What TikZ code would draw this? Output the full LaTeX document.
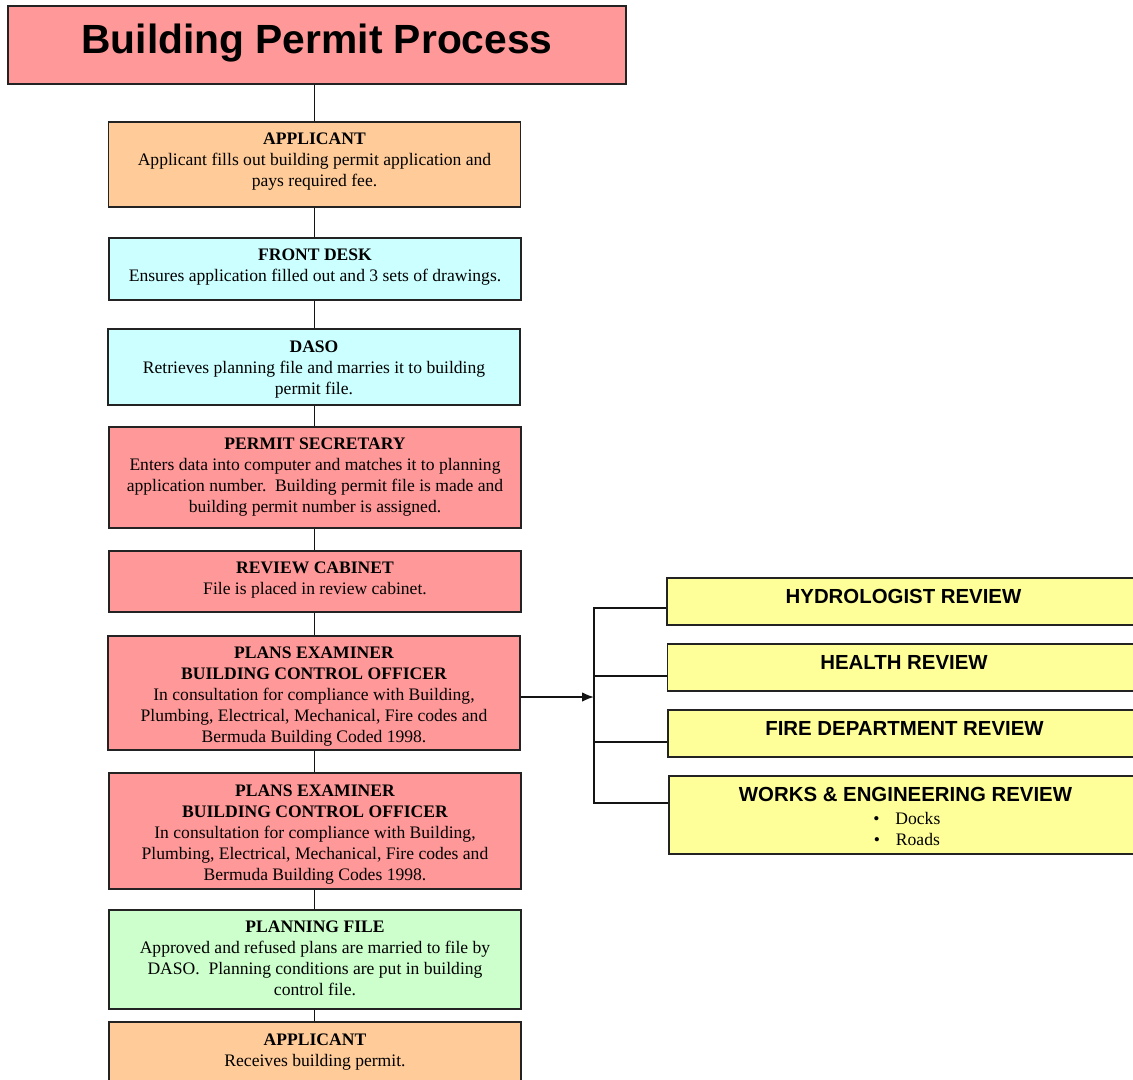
\documentclass[tikz,border=0pt]{standalone}
\usepackage{fontspec}
\setmainfont{Liberation Serif}
\newfontfamily\headfont{Liberation Sans}
\usetikzlibrary{arrows.meta, positioning, calc}
\newcommand{\pxu}{0.025cm}
\tikzset{
	every text node part/.style = {align=center},
	stepbox/.style = {
		draw = {rgb,255:red,35; green,35; blue,35},
		line width = 1.4pt,
		minimum width = 412*\pxu,
		inner sep = 0pt
	},
	pinkbox/.style = {stepbox, fill={rgb,255:red,255; green,153; blue,153}},
	orangebox/.style = {stepbox, fill={rgb,255:red,255; green,204; blue,153}},
	cyanbox/.style = {stepbox, fill={rgb,255:red,204; green,255; blue,255}},
	greenbox/.style = {stepbox, fill={rgb,255:red,204; green,255; blue,204}},
	reviewbox/.style = {stepbox, minimum width=473*\pxu, minimum height=47*\pxu, fill={rgb,255:red,255; green,255; blue,153}},
	boxtext/.style = {anchor=north, inner sep=0pt, font=\fontsize{12.5}{14.9}\selectfont},
	reviewtext/.style = {anchor=north, inner sep=0pt, font=\headfont\bfseries\fontsize{14.5}{17}\selectfont},
	link/.style = {line width=1.25pt, color={rgb,255:red,20; green,20; blue,20}}
}
\begin{document}
\begin{tikzpicture}[x=\pxu, y=-\pxu]
	
	\useasboundingbox (0,0) rectangle (1133,1080);
	
	% title
	\node [pinkbox, minimum width=618*\pxu, minimum height=78*\pxu] (ttl) at (317,45) {};
	\node [anchor=base, inner sep=0pt, font=\headfont\bfseries\fontsize{29}{34}\selectfont] (ttltext) at ([yshift=31*\pxu]ttl.south) {Building Permit Process};
	
	% main column
	\node [orangebox, minimum height=85*\pxu] (app) at (314.5,164.5) {};
	\node [boxtext] (apptext) at ([yshift=-12*\pxu]app.north) {\textbf{APPLICANT}\\Applicant fills out building permit application and\\pays required fee.};
	
	\node [cyanbox, minimum height=62*\pxu] (desk) at (315,269) {};
	\node [boxtext] (desktext) at ([yshift=-12*\pxu]desk.north) {\textbf{FRONT DESK}\\Ensures application filled out and 3 sets of drawings.};
	
	\node [cyanbox, minimum height=76*\pxu] (daso) at (314,367) {};
	\node [boxtext] (dasotext) at ([yshift=-12.5*\pxu]daso.north) {\textbf{DASO}\\Retrieves planning file and marries it to building\\permit file.};
	
	\node [pinkbox, minimum height=101*\pxu] (sec) at (315,477.5) {};
	\node [boxtext] (sectext) at ([yshift=-12*\pxu]sec.north) {\textbf{PERMIT SECRETARY}\\Enters data into computer and matches it to planning\\application number.\ \ Building permit file is made and\\building permit number is assigned.};
	
	\node [pinkbox, minimum height=61*\pxu] (cab) at (315,581.5) {};
	\node [boxtext] (cabtext) at ([yshift=-12*\pxu]cab.north) {\textbf{REVIEW CABINET}\\File is placed in review cabinet.};
	
	\node [pinkbox, minimum height=114*\pxu] (exam) at (314,693) {};
	\node [boxtext] (examtext) at ([yshift=-11.5*\pxu]exam.north) {\textbf{PLANS EXAMINER}\\\textbf{BUILDING CONTROL OFFICER}\\In consultation for compliance with Building,\\Plumbing, Electrical, Mechanical, Fire codes and\\Bermuda Building Coded 1998.};
	
	\node [pinkbox, minimum height=116*\pxu] (examb) at (315,831) {};
	\node [boxtext] (exambtext) at ([yshift=-12.5*\pxu]examb.north) {\textbf{PLANS EXAMINER}\\\textbf{BUILDING CONTROL OFFICER}\\In consultation for compliance with Building,\\Plumbing, Electrical, Mechanical, Fire codes and\\Bermuda Building Codes 1998.};
	
	\node [greenbox, minimum height=99*\pxu] (plan) at (315,959.5) {};
	\node [boxtext] (plantext) at ([yshift=-12*\pxu]plan.north) {\textbf{PLANNING FILE}\\Approved and refused plans are married to file by\\DASO.\ \ Planning conditions are put in building\\control file.};
	
	\node [orangebox, minimum height=73*\pxu] (rec) at (315,1058.5) {};
	\node [boxtext] (rectext) at ([yshift=-12.5*\pxu]rec.north) {\textbf{APPLICANT}\\Receives building permit.};
	
	\draw [link] (app.north |- ttl.south) -- (app.north);
	\draw [link] (app.south) -- (app.south |- desk.north);
	\draw [link] (app.south |- desk.south) -- (app.south |- daso.north);
	\draw [link] (app.south |- daso.south) -- (app.south |- sec.north);
	\draw [link] (app.south |- sec.south) -- (app.south |- cab.north);
	\draw [link] (app.south |- cab.south) -- (app.south |- exam.north);
	\draw [link] (app.south |- exam.south) -- (app.south |- examb.north);
	\draw [link] (app.south |- examb.south) -- (app.south |- plan.north);
	\draw [link] (app.south |- plan.south) -- (app.south |- rec.north);
	
	% reviews
	\node [reviewbox] (hyd) at (903.5,601.5) {};
	\node [reviewtext] (hydtext) at ([yshift=-12*\pxu]hyd.north) {HYDROLOGIST REVIEW};
	\node [reviewbox] (health) at (904,667.5) {};
	\node [reviewtext] (healthtext) at ([yshift=-12*\pxu]health.north) {HEALTH REVIEW};
	\node [reviewbox] (fire) at (904.5,733.5) {};
	\node [reviewtext] (firetext) at ([yshift=-12*\pxu]fire.north) {FIRE DEPARTMENT REVIEW};
	\node [reviewbox, minimum height=78*\pxu] (works) at (905.5,815) {};
	\node [reviewtext] (workstext) at ([yshift=-12*\pxu]works.north) {WORKS \& ENGINEERING REVIEW};
	\node [anchor=north west, inner sep=0pt, align=left, font=\fontsize{12.5}{15.3}\selectfont] (workslist) at ([xshift=205*\pxu, yshift=-36.5*\pxu]works.north west) {\textbullet\hspace{0.4cm}Docks\\\textbullet\hspace{0.4cm}Roads};
	
	\coordinate (bus) at (594,697);
	\coordinate (hydin) at ([yshift=-6.5*\pxu]hyd.west);
	\coordinate (healthin) at ([yshift=-8.5*\pxu]health.west);
	\coordinate (firein) at ([yshift=-8.5*\pxu]fire.west);
	\coordinate (worksin) at ([yshift=12*\pxu]works.west);
	
	\draw [link, -{Latex[length=3mm, width=2.4mm]}] (exam.east |- bus) -- (bus);
	\draw [link] (hydin) -| (bus |- worksin) -- (worksin);
	\draw [link] (healthin) -- (healthin -| bus);
	\draw [link] (firein) -- (firein -| bus);
	
\end{tikzpicture}
\end{document}
